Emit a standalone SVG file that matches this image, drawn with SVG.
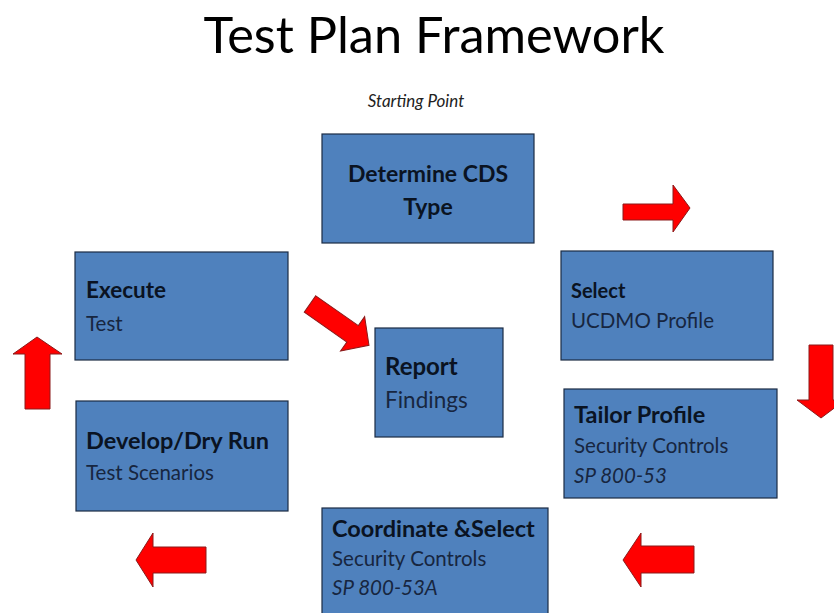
<svg xmlns="http://www.w3.org/2000/svg" width="834" height="613" viewBox="0 0 834 613">
<style>
.box{fill:#4F81BD;stroke:#1C2C44;stroke-width:1.2}
.arr{fill:#FF0000;stroke:#8B1A1A;stroke-width:1}
text{font-family:Lato,"Open Sans","Liberation Sans",sans-serif}
.h{font-weight:bold;fill:#0A1322;font-size:23.5px}
.t{fill:#172640;font-size:20.5px}
.i{fill:#172640;font-size:20.5px;font-style:italic}
</style>
<rect width="834" height="613" fill="#FFFFFF"/>
<text x="434" y="53" text-anchor="middle" font-size="50.5" fill="#000000">Test Plan Framework</text>
<text x="416" y="107" text-anchor="middle" font-size="17" font-style="italic" fill="#222222">Starting Point</text>

<g id="determine">
<rect class="box" x="322" y="134" width="212" height="109"/>
<text class="h" x="428" y="182" text-anchor="middle" style="font-size:23px">Determine CDS</text>
<text class="h" x="428" y="215" text-anchor="middle" style="font-size:23px">Type</text>
</g>
<g id="execute">
<rect class="box" x="75" y="252" width="213" height="108"/>
<text class="h" x="86" y="298" style="font-size:22.5px">Execute</text>
<text class="t" x="86" y="331">Test</text>
</g>
<g id="report">
<rect class="box" x="375" y="328" width="128" height="109"/>
<text class="h" x="385" y="375" style="font-size:24px">Report</text>
<text class="t" x="385" y="408" style="font-size:22.5px">Findings</text>
</g>
<g id="select">
<rect class="box" x="561" y="251" width="212" height="109"/>
<text class="h" x="571" y="298" style="font-size:20px">Select</text>
<text class="t" x="571" y="328">UCDMO Profile</text>
</g>
<g id="tailor">
<rect class="box" x="564" y="389" width="213" height="109"/>
<text class="h" x="574" y="423">Tailor Profile</text>
<text class="t" x="574" y="453">Security Controls</text>
<text class="i" x="574" y="483">SP 800-53</text>
</g>
<g id="develop">
<rect class="box" x="76" y="401" width="212" height="110"/>
<text class="h" x="86" y="449">Develop/Dry Run</text>
<text class="t" x="86" y="480">Test Scenarios</text>
</g>
<g id="coordinate">
<rect class="box" x="322" y="508" width="226" height="110"/>
<text class="h" x="332" y="537">Coordinate &amp;Select</text>
<text class="t" x="332" y="566">Security Controls</text>
<text class="i" x="332" y="595">SP 800-53A</text>
</g>

<g id="connectors">
<polygon class="arr" points="623,204 673,204 673,185 690,208 673,232 673,220 623,220"/>
<polygon class="arr" points="809,345 833,345 833,400 845,400 821,418 797,400 809,400"/>
<polygon class="arr" points="694,546 641,546 641,533 623,560 641,587 641,573 694,573"/>
<polygon class="arr" points="206,547 153,547 153,533 136,560 153,587 153,573 206,573"/>
<polygon class="arr" points="25,409 25,354 13,354 37,337 62,354 50,354 50,409"/>
<polygon class="arr" transform="translate(310,304) rotate(35)" points="0,-10 52,-10 52,-21 72,0 52,21 52,10 0,10"/>
</g>
</svg>
